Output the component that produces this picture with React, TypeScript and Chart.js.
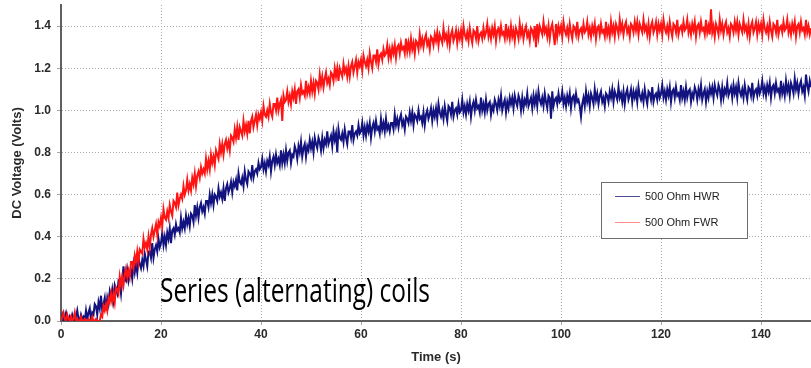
import React, { useEffect, useRef } from "react";
import { Chart, registerables } from "chart.js";

Chart.register(...registerables);

// Sample interval of the logged data (seconds)
const SAMPLE_STEP_S = 0.25;

// 500 Ohm FWR (red), one value every 0.25 s from 0 to 150 s (each row = 5 s)
const fwr500 = [
  0.00,0.02,0.04,0.01,0.00,0.03,0.01,0.00,0.02,0.00,0.01,0.04,0.00,0.01,0.00,0.00,0.02,0.00,0.00,0.01,
  0.00,0.00,0.01,0.00,0.00,0.02,0.00,0.00,0.01,0.00,0.00,0.00,0.03,0.02,0.07,0.05,0.08,0.05,0.11,0.09,
  0.13,0.09,0.13,0.09,0.16,0.15,0.13,0.21,0.17,0.21,0.17,0.22,0.25,0.21,0.24,0.21,0.28,0.28,0.25,0.31,
  0.28,0.33,0.28,0.34,0.33,0.32,0.39,0.35,0.37,0.34,0.40,0.35,0.41,0.44,0.40,0.43,0.46,0.41,0.47,0.45,
  0.49,0.45,0.53,0.49,0.48,0.52,0.49,0.55,0.52,0.50,0.57,0.56,0.54,0.61,0.55,0.58,0.60,0.58,0.64,0.60,
  0.62,0.67,0.62,0.65,0.62,0.68,0.65,0.70,0.64,0.69,0.71,0.68,0.73,0.70,0.72,0.70,0.77,0.72,0.76,0.72,
  0.79,0.75,0.78,0.74,0.81,0.79,0.77,0.84,0.80,0.84,0.79,0.84,0.86,0.82,0.85,0.81,0.88,0.87,0.85,0.91,
  0.87,0.92,0.86,0.92,0.90,0.88,0.95,0.90,0.93,0.89,0.95,0.89,0.95,0.97,0.92,0.95,0.98,0.93,0.98,0.96,
  0.99,0.95,1.02,0.98,0.97,1.00,0.97,1.03,0.99,0.97,1.03,1.03,1.00,1.06,1.00,1.03,1.05,0.95,1.07,1.04,
  1.05,1.09,1.04,1.07,1.03,1.09,1.06,1.10,1.03,1.09,1.10,1.06,1.12,1.08,1.09,1.07,1.14,1.08,1.11,1.08,
  1.14,1.09,1.13,1.08,1.14,1.13,1.10,1.17,1.12,1.16,1.11,1.15,1.18,1.13,1.15,1.12,1.18,1.17,1.14,1.20,
  1.16,1.20,1.14,1.20,1.18,1.16,1.22,1.18,1.20,1.16,1.21,1.16,1.21,1.23,1.18,1.21,1.24,1.18,1.23,1.21,
  1.24,1.19,1.26,1.23,1.21,1.24,1.20,1.27,1.23,1.20,1.26,1.26,1.23,1.29,1.22,1.26,1.27,1.24,1.29,1.26,
  1.27,1.31,1.25,1.29,1.25,1.30,1.27,1.31,1.25,1.30,1.31,1.27,1.32,1.29,1.30,1.27,1.34,1.28,1.32,1.28,
  1.34,1.29,1.32,1.27,1.33,1.32,1.29,1.36,1.31,1.34,1.30,1.34,1.36,1.31,1.33,1.29,1.35,1.34,1.31,1.36,
  1.33,1.37,1.31,1.36,1.34,1.32,1.39,1.34,1.36,1.32,1.37,1.31,1.36,1.38,1.33,1.35,1.38,1.32,1.37,1.34,
  1.38,1.33,1.40,1.36,1.34,1.37,1.33,1.39,1.35,1.32,1.38,1.37,1.34,1.40,1.33,1.36,1.37,1.34,1.39,1.35,
  1.37,1.41,1.35,1.38,1.34,1.39,1.36,1.40,1.33,1.38,1.39,1.35,1.40,1.36,1.37,1.34,1.41,1.35,1.38,1.34,
  1.40,1.35,1.38,1.33,1.39,1.37,1.34,1.41,1.36,1.39,1.34,1.38,1.40,1.35,1.37,1.33,1.39,1.38,1.35,1.40,
  1.30,1.41,1.35,1.40,1.38,1.36,1.42,1.37,1.39,1.35,1.40,1.34,1.39,1.41,1.36,1.31,1.41,1.35,1.40,1.37,
  1.40,1.35,1.42,1.38,1.36,1.39,1.35,1.41,1.37,1.34,1.40,1.39,1.36,1.42,1.35,1.38,1.39,1.36,1.41,1.37,
  1.38,1.42,1.36,1.39,1.35,1.40,1.37,1.41,1.34,1.39,1.40,1.36,1.41,1.37,1.38,1.35,1.42,1.36,1.39,1.35,
  1.42,1.37,1.40,1.35,1.41,1.39,1.36,1.43,1.38,1.41,1.36,1.40,1.42,1.37,1.39,1.35,1.41,1.40,1.37,1.42,
  1.38,1.42,1.36,1.41,1.39,1.37,1.43,1.38,1.40,1.36,1.41,1.35,1.40,1.42,1.37,1.39,1.42,1.36,1.41,1.38,
  1.41,1.36,1.43,1.39,1.37,1.40,1.36,1.42,1.38,1.35,1.41,1.40,1.37,1.43,1.36,1.39,1.40,1.37,1.42,1.38,
  1.39,1.43,1.37,1.40,1.36,1.41,1.38,1.42,1.35,1.40,1.41,1.37,1.42,1.38,1.39,1.36,1.43,1.37,1.40,1.36,
  1.48,1.37,1.40,1.35,1.41,1.39,1.36,1.43,1.38,1.41,1.36,1.40,1.42,1.37,1.39,1.35,1.41,1.40,1.37,1.42,
  1.38,1.42,1.36,1.41,1.39,1.37,1.43,1.38,1.40,1.36,1.41,1.35,1.40,1.42,1.37,1.39,1.42,1.36,1.41,1.38,
  1.41,1.36,1.43,1.39,1.37,1.40,1.36,1.42,1.38,1.35,1.41,1.40,1.37,1.43,1.36,1.39,1.40,1.37,1.42,1.38,
  1.39,1.43,1.37,1.40,1.36,1.41,1.38,1.42,1.35,1.40,1.41,1.37,1.42,1.38,1.39,1.36,1.43,1.37,1.40,1.36,
  1.39,
];

// 500 Ohm HWR (blue), one value every 0.25 s from 0 to 150 s (each row = 5 s)
const hwr500 = [
  0.01,0.03,0.00,0.02,0.04,0.01,0.00,0.02,0.00,0.03,0.01,0.00,0.02,0.05,0.01,0.00,0.03,0.01,0.02,0.00,
  0.05,0.01,0.04,0.06,0.00,0.04,0.03,0.08,0.07,0.03,0.09,0.06,0.12,0.05,0.08,0.11,0.05,0.11,0.08,0.14,
  0.11,0.15,0.10,0.17,0.15,0.13,0.19,0.18,0.13,0.20,0.26,0.20,0.19,0.24,0.19,0.22,0.24,0.20,0.27,0.23,
  0.27,0.23,0.30,0.27,0.25,0.29,0.26,0.32,0.29,0.26,0.33,0.33,0.30,0.37,0.30,0.34,0.36,0.33,0.39,0.35,
  0.37,0.42,0.36,0.40,0.36,0.42,0.39,0.44,0.37,0.43,0.44,0.41,0.46,0.43,0.44,0.42,0.49,0.44,0.47,0.44,
  0.50,0.46,0.49,0.45,0.51,0.50,0.47,0.55,0.50,0.54,0.49,0.54,0.56,0.52,0.54,0.51,0.57,0.57,0.54,0.60,
  0.56,0.60,0.55,0.60,0.59,0.57,0.63,0.59,0.61,0.58,0.63,0.57,0.63,0.65,0.61,0.63,0.66,0.61,0.66,0.64,
  0.67,0.62,0.70,0.66,0.65,0.68,0.64,0.71,0.67,0.65,0.71,0.70,0.68,0.74,0.68,0.71,0.72,0.70,0.75,0.72,
  0.73,0.77,0.72,0.75,0.71,0.76,0.74,0.78,0.71,0.76,0.78,0.74,0.79,0.75,0.77,0.74,0.81,0.75,0.79,0.75,
  0.81,0.76,0.80,0.81,0.75,0.79,0.78,0.83,0.81,0.77,0.83,0.80,0.85,0.78,0.82,0.84,0.78,0.83,0.81,0.86,
  0.82,0.85,0.80,0.87,0.84,0.82,0.87,0.85,0.81,0.87,0.82,0.86,0.84,0.90,0.84,0.86,0.88,0.83,0.90,0.86,
  0.89,0.80,0.91,0.87,0.86,0.89,0.85,0.91,0.87,0.84,0.90,0.90,0.87,0.93,0.86,0.89,0.90,0.88,0.93,0.89,
  0.90,0.94,0.88,0.92,0.88,0.93,0.90,0.94,0.87,0.92,0.94,0.90,0.95,0.91,0.92,0.89,0.96,0.91,0.94,0.90,
  0.96,0.91,0.93,0.90,0.94,0.94,0.91,0.98,0.93,0.96,0.92,0.96,0.98,0.93,0.95,0.91,0.97,0.96,0.94,0.99,
  0.95,0.99,0.93,0.98,0.97,0.95,1.00,0.96,0.97,0.94,0.99,0.93,0.98,1.00,0.96,0.98,1.01,0.95,1.00,0.97,
  1.01,0.96,1.03,0.99,0.97,1.00,0.96,1.02,0.98,0.95,1.02,1.01,0.98,1.04,0.97,1.00,1.01,0.98,1.03,0.99,
  1.00,1.05,0.99,1.02,0.98,1.03,1.00,1.04,0.97,1.02,1.04,1.00,1.05,1.01,1.02,0.99,1.06,1.00,1.03,0.99,
  1.05,1.00,1.03,1.04,0.98,1.02,1.00,1.05,1.03,1.00,1.05,1.02,1.07,1.00,1.03,1.05,0.99,1.04,1.01,1.06,
  1.03,1.06,1.01,1.07,1.04,1.02,1.07,1.05,1.00,1.06,1.01,1.05,1.03,1.08,1.02,1.04,1.06,1.01,1.07,1.03,
  1.07,1.02,1.09,1.05,1.03,1.06,1.02,1.08,1.04,1.01,1.07,1.06,0.96,1.09,1.02,1.05,1.06,1.03,1.08,1.04,
  1.05,1.09,1.03,1.06,1.02,1.07,1.04,1.08,1.01,1.06,1.07,1.03,1.08,1.04,1.05,1.02,0.97,1.03,1.06,1.02,
  1.09,1.04,1.07,1.02,1.08,1.06,1.03,1.10,1.05,1.08,1.03,1.07,1.09,1.04,1.06,1.02,1.08,1.07,1.04,1.09,
  1.06,1.10,1.04,1.09,1.07,1.05,1.11,1.06,1.08,1.04,1.09,1.03,1.08,1.10,1.05,1.07,1.10,1.04,1.09,1.06,
  1.09,1.04,1.11,1.07,1.05,1.08,1.04,1.10,1.06,1.03,1.09,1.08,1.05,1.11,1.04,1.07,1.08,1.05,1.10,1.06,
  1.08,1.12,1.06,1.09,1.05,1.10,1.07,1.11,1.04,1.09,1.10,1.06,1.11,1.07,1.08,1.05,1.12,1.06,1.09,1.05,
  1.11,1.06,1.09,1.10,1.04,1.08,1.06,1.11,1.09,1.05,1.10,1.07,1.12,1.05,1.08,1.10,1.04,1.09,1.06,1.11,
  1.08,1.11,1.06,1.12,1.09,1.07,1.12,1.10,1.05,1.11,1.06,1.10,1.08,1.13,1.07,1.09,1.11,1.06,1.12,1.08,
  1.11,1.06,1.13,1.09,1.07,1.10,1.06,1.12,1.08,1.05,1.11,1.10,1.07,1.13,1.06,1.09,1.10,1.07,1.12,1.08,
  1.10,1.14,1.08,1.11,1.07,1.12,1.09,1.13,1.06,1.11,1.12,1.08,1.13,1.09,1.10,1.07,1.14,1.08,1.11,1.07,
  1.14,1.09,1.12,1.07,1.13,1.11,1.08,1.15,1.10,1.13,1.08,1.12,1.14,1.09,1.11,1.07,1.17,1.12,1.09,1.14,
  1.11,
];

const xTickValues = [0, 20, 40, 60, 80, 100, 120, 140];
const yTickValues = [0.0, 0.2, 0.4, 0.6, 0.8, 1.0, 1.2, 1.4];
const seriesNames = ["500 Ohm HWR", "500 Ohm FWR"];
const seriesColors = ["#13137f", "#ff1414"];
const legendColors = ["#4a4a95", "#ff8a8a"];
const annotationText = "Series (alternating) coils";
const xTitle = "Time (s)";
const yTitle = "DC Voltage (Volts)";

const toPoints = (arr: number[]) => arr.map((v, i) => ({ x: i * SAMPLE_STEP_S, y: v }));

const overlayPlugin = {
  id: "overlay",
  afterDraw(chart: any) {
    const ctx = chart.ctx as CanvasRenderingContext2D;
    ctx.save();
    // legend box
    const bx = 601.5, by = 182.5, bw = 146, bh = 56;
    ctx.fillStyle = "#ffffff";
    ctx.fillRect(bx, by, bw, bh);
    ctx.strokeStyle = "#6e6e6e";
    ctx.lineWidth = 1;
    ctx.strokeRect(bx, by, bw, bh);
    ctx.font = '11px "Liberation Sans", Arial, sans-serif';
    ctx.textBaseline = "middle";
    ctx.textAlign = "left";
    seriesNames.forEach((name, i) => {
      const ly = 196.5 + i * 26;
      ctx.strokeStyle = legendColors[i];
      ctx.lineWidth = 1;
      ctx.beginPath();
      ctx.moveTo(615, ly);
      ctx.lineTo(640, ly);
      ctx.stroke();
      ctx.fillStyle = "#222222";
      ctx.fillText(name, 645, ly);
    });
    // annotation text
    ctx.font = '32px "Open Sans", "Noto Sans", sans-serif';
    ctx.fillStyle = "#000000";
    ctx.textBaseline = "alphabetic";
    const w = ctx.measureText(annotationText).width;
    const target = 270;
    ctx.translate(160, 302);
    ctx.scale(target / w, 1);
    ctx.fillText(annotationText, 0, 0);
    ctx.restore();
  },
};

export default function App() {
  const ref = useRef<HTMLCanvasElement | null>(null);
  useEffect(() => {
    if (!ref.current) return;
    const tickFont = { family: '"Liberation Sans", Arial, sans-serif', size: 12, weight: "bold" as const };
    const titleFont = { family: '"Liberation Sans", Arial, sans-serif', size: 13, weight: "bold" as const };
    const chart = new Chart(ref.current, {
      type: "line",
      data: {
        datasets: [
          {
            label: seriesNames[1],
            data: toPoints(fwr500),
            borderColor: seriesColors[1],
            borderWidth: 2,
            pointRadius: 0,
            tension: 0,
          },
          {
            label: seriesNames[0],
            data: toPoints(hwr500),
            borderColor: seriesColors[0],
            borderWidth: 2,
            pointRadius: 0,
            tension: 0,
          },
        ],
      },
      options: {
        animation: false,
        responsive: false,
        devicePixelRatio: 1,
        layout: { padding: { top: 5, right: 0, bottom: 0, left: 0 } },
        plugins: { legend: { display: false }, tooltip: { enabled: false } },
        scales: {
          x: {
            type: "linear",
            min: 0,
            max: 150,
            afterBuildTicks: (s: any) => {
              s.ticks = xTickValues.map((v) => ({ value: v }));
            },
            afterFit: (s: any) => {
              s.height = 47;
              s.paddingLeft = 0;
              s.paddingRight = 0;
            },
            ticks: { font: tickFont, color: "#2a2a2a", padding: 2, maxRotation: 0 },
            grid: { color: "#a8a8a8", tickLength: 4, lineWidth: 1 },
            border: { color: "#606060", width: 2, dash: [1, 2] },
            title: { display: true, text: xTitle, font: titleFont, color: "#2a2a2a", padding: { top: 0, bottom: 3 } },
          },
          y: {
            type: "linear",
            min: 0,
            max: 1.5,
            afterBuildTicks: (s: any) => {
              s.ticks = yTickValues.map((v) => ({ value: v }));
            },
            afterFit: (s: any) => {
              s.width = 61;
              s.paddingTop = 0;
              s.paddingBottom = 0;
            },
            ticks: {
              font: tickFont,
              color: "#2a2a2a",
              padding: 6,
              callback: (v: any) => Number(v).toFixed(1),
            },
            grid: { color: "#a8a8a8", tickLength: 4, lineWidth: 1 },
            border: { color: "#606060", width: 2, dash: [1, 2] },
            title: { display: true, text: yTitle, font: titleFont, color: "#2a2a2a", padding: { top: 10, bottom: 0 } },
          },
        },
      } as any,
      plugins: [overlayPlugin],
    });
    return () => chart.destroy();
  }, []);
  return (
    <div style={{ position: "absolute", left: 0, top: 0, width: 811, height: 368, background: "#fff" }}>
      <canvas ref={ref} width={811} height={368} />
    </div>
  );
}
